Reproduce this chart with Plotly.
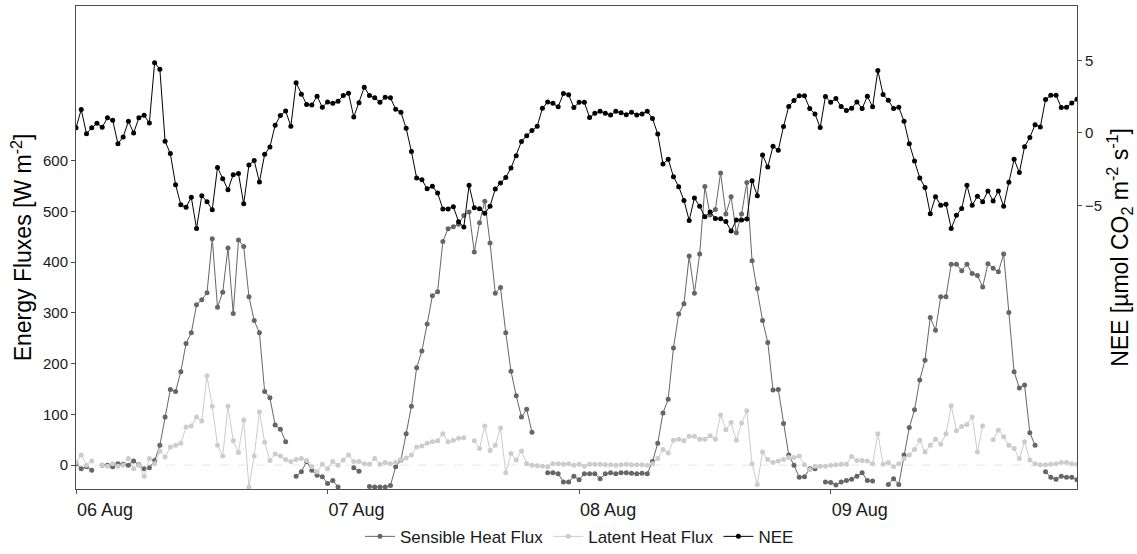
import pandas as pd
import plotly.graph_objects as go

# Half-hourly timestamps, 06 Aug 00:00 to 09 Aug 23:30
times = pd.date_range("2021-08-06 00:00", periods=192, freq="30min")

# Net ecosystem exchange [umol CO2 m-2 s-1]
nee = [
    0.35, 1.61, -0.05, 0.35, 0.66, 0.39, 1.04, 0.87, -0.74, -0.28, 0.80, 0.00,
    1.04, 1.22, 0.69, 4.84, 4.40, -0.58, -1.43, -3.57, -4.96, -5.14, -4.45, -6.59,
    -4.33, -4.75, -5.30, -2.38, -3.16, -3.92, -2.88, -2.81, -4.89, -2.21, -1.91, -3.39,
    -1.48, -0.97, 0.53, 1.20, 1.52, 0.46, 3.46, 2.67, 1.96, 1.93, 2.53, 1.77,
    2.14, 2.05, 2.18, 2.58, 2.74, 1.10, 2.09, 3.15, 2.58, 2.42, 2.11, 2.46,
    2.42, 1.63, 1.43, 0.32, -1.29, -3.11, -3.23, -3.85, -3.69, -4.15, -5.25, -5.25,
    -5.09, -6.13, -6.50, -3.62, -5.16, -5.23, -5.55, -5.07, -3.87, -3.46, -3.07, -2.42,
    -1.57, -0.59, -0.19, 0.16, 0.46, 1.70, 2.14, 2.05, 1.80, 2.72, 2.63, 1.75,
    2.11, 2.11, 1.06, 1.35, 1.49, 1.35, 1.24, 1.49, 1.40, 1.26, 1.42, 1.24,
    1.31, 1.49, 0.99, -0.07, -2.14, -1.82, -3.02, -3.71, -4.66, -6.04, -4.49, -5.07,
    -5.78, -5.46, -5.90, -5.92, -6.11, -6.77, -6.01, -6.02, -5.95, -3.30, -4.33, -1.52,
    -2.35, -0.92, -1.20, 0.44, 1.82, 2.23, 2.56, 2.56, 1.68, 1.31, 0.37, 2.51,
    2.11, 2.37, 1.82, 1.54, 1.70, 2.14, 1.68, 2.53, 1.80, 4.31, 2.65, 2.25,
    1.68, 1.77, 0.80, -0.74, -1.94, -3.11, -3.76, -5.58, -4.40, -5.00, -4.93, -6.59,
    -5.69, -5.21, -3.62, -5.00, -4.38, -4.75, -4.01, -4.70, -4.01, -5.07, -3.41, -1.82,
    -2.74, -0.95, -0.32, 0.57, 0.41, 2.30, 2.60, 2.60, 1.75, 1.77, 2.07, 2.32,
]

# Sensible heat flux [W m-2]; None marks missing records
sensible = [
    3, -7, -3, -10, None, 0, 0, -3, 3, 2, 0, 8,
    1, -7, -5, 9, 39, 95, 149, 145, 184, 240, 261, 316,
    326, 340, 446, 311, 341, 428, 299, 444, 431, 332, 285, 261,
    145, 133, 79, 71, 46, None, -22, -13, 7, -10, -20, -23,
    -36, -30, -43, -55, None, -5, -12, None, -42, -43, -43, -43,
    -40, -3, 10, 62, 116, 192, 225, 278, 334, 342, 441, 466,
    470, 475, 492, 499, 420, 478, 520, 438, 339, 350, 261, 185,
    137, 95, 110, 65, None, None, -15, -15, -17, -33, -33, -22,
    -29, -17, -17, -17, -27, -17, -15, -17, -15, -15, -16, -17,
    -16, -17, 7, 43, 103, 130, 231, 298, 318, 412, 339, 416,
    549, 493, 504, 576, 495, 529, 458, 495, 557, 403, 348, 285,
    242, 148, 149, 82, 20, 0, -24, -23, -7, -7, None, -33,
    -34, -39, -33, -30, -28, -22, -15, -30, -31, None, None, -38,
    -27, -38, 20, 74, 109, 168, 207, 291, 266, 332, 332, 396,
    396, 383, 396, 378, 374, 351, 397, 388, 381, 416, 301, 184,
    152, 158, 64, 39, None, -13, -24, -28, -22, -24, -24, -29,
]

# Latent heat flux [W m-2]
latent = [
    5, 20, 0, 8, None, 0, -2, 3, -2, 0, 13, -7,
    0, -22, 13, 3, 28, 16, 36, 39, 43, 75, 77, 95,
    87, 176, 116, 39, 18, 116, 48, 25, 89, -43, 18, 105,
    45, 9, 22, 18, 11, 7, 11, 13, 9, -3, -13, 2,
    -7, 7, 0, 10, 20, 7, 7, 3, 2, 13, 2, 5,
    3, 5, 11, 14, 20, 36, 38, 43, 46, 48, 62, 46,
    49, 53, 54, None, 48, 33, 77, 29, 39, 73, -15, 23,
    10, 28, 3, 0, -1, -2, -3, 3, 3, 2, 3, 0,
    2, -2, 2, 2, 2, 1, 1, 0, 1, 2, 1, 1,
    1, 0, 3, 13, 31, 24, 49, 51, 48, 57, 57, 51,
    51, 58, 51, 99, 70, 84, 49, 83, 107, 3, -38, 26,
    11, 5, 8, 11, 15, 15, 18, 1, -9, -2, -2, -2,
    0, 1, 2, 2, 17, 9, 9, 8, 3, 62, 2, 5,
    -3, 3, 13, 20, 31, 49, 26, 39, 51, 41, 62, 117,
    68, 76, 80, 95, 26, 77, None, 50, 69, 56, 39, 33,
    13, 46, 10, 3, 1, 1, 2, 3, 5, 5, 3, 2,
]

flux_ticks = [0, 100, 200, 300, 400, 500, 600]
nee_ticks = [-5, 0, 5]

FONT = "Liberation Sans, Arial, sans-serif"
AXIS_COL = "#4d4d4d"
TEXT_COL = "#1a1a1a"

fig = go.Figure()

fig.add_trace(go.Scatter(
    x=times, y=sensible, name="Sensible Heat Flux", mode="lines+markers",
    line=dict(color="#666666", width=1), marker=dict(color="#666666", size=5),
    connectgaps=False, yaxis="y",
))
fig.add_trace(go.Scatter(
    x=times, y=latent, name="Latent Heat Flux", mode="lines+markers",
    line=dict(color="#cccccc", width=1), marker=dict(color="#cccccc", size=5),
    connectgaps=False, yaxis="y",
))
fig.add_trace(go.Scatter(
    x=times, y=nee, name="NEE", mode="lines+markers",
    line=dict(color="#000000", width=1), marker=dict(color="#000000", size=5),
    connectgaps=False, yaxis="y2",
))

# faint zero reference for the energy fluxes
fig.add_shape(type="line", xref="paper", x0=0, x1=1, yref="y", y0=0, y1=0,
              line=dict(color="#e6e6e6", width=1, dash="dash"), layer="below")

fig.update_layout(
    width=1137, height=554,
    margin=dict(l=76, r=60, t=6, b=65, autoexpand=False),
    paper_bgcolor="white", plot_bgcolor="white",
    font=dict(family=FONT, color="#000000"),
    showlegend=True,
    legend=dict(orientation="h", x=0.503, xanchor="center", y=-0.099, yanchor="middle",
                font=dict(size=17, color=TEXT_COL), itemwidth=30, tracegroupgap=0,
                bgcolor="rgba(0,0,0,0)"),
    xaxis=dict(
        type="date", range=[times[0], times[-1]], automargin=False,
        tick0=times[0], dtick=86400000, tickformat="%d %b",
        showgrid=False, zeroline=False,
        showline=True, linecolor=AXIS_COL, linewidth=1, mirror=True,
        ticks="outside", ticklen=4, tickcolor=AXIS_COL,
        tickfont=dict(size=18, color=TEXT_COL), ticklabelshift=29,
    ),
    yaxis=dict(
        range=[-47, 905], tickvals=flux_ticks, automargin=False,
        showgrid=False, zeroline=False,
        showline=True, linecolor=AXIS_COL, linewidth=1,
        ticks="outside", ticklen=4, tickcolor=AXIS_COL,
        tickfont=dict(size=15, color=TEXT_COL),
        title=dict(text="Energy Fluxes [W m<sup>-2</sup>]", font=dict(size=23, color="#000000"),
                   standoff=4),
    ),
    yaxis2=dict(
        overlaying="y", side="right", automargin=False,
        range=[-24.58, 8.76], tickvals=nee_ticks,
        showgrid=False, zeroline=False,
        showline=True, linecolor=AXIS_COL, linewidth=1,
        ticks="outside", ticklen=4, tickcolor=AXIS_COL,
        tickfont=dict(size=15, color=TEXT_COL),
        title=dict(text="NEE [µmol CO<sub>2</sub> m<sup>-2</sup> s<sup>-1</sup>]",
                   font=dict(size=23, color="#000000"), standoff=10),
    ),
)

fig.write_html("out.html")
